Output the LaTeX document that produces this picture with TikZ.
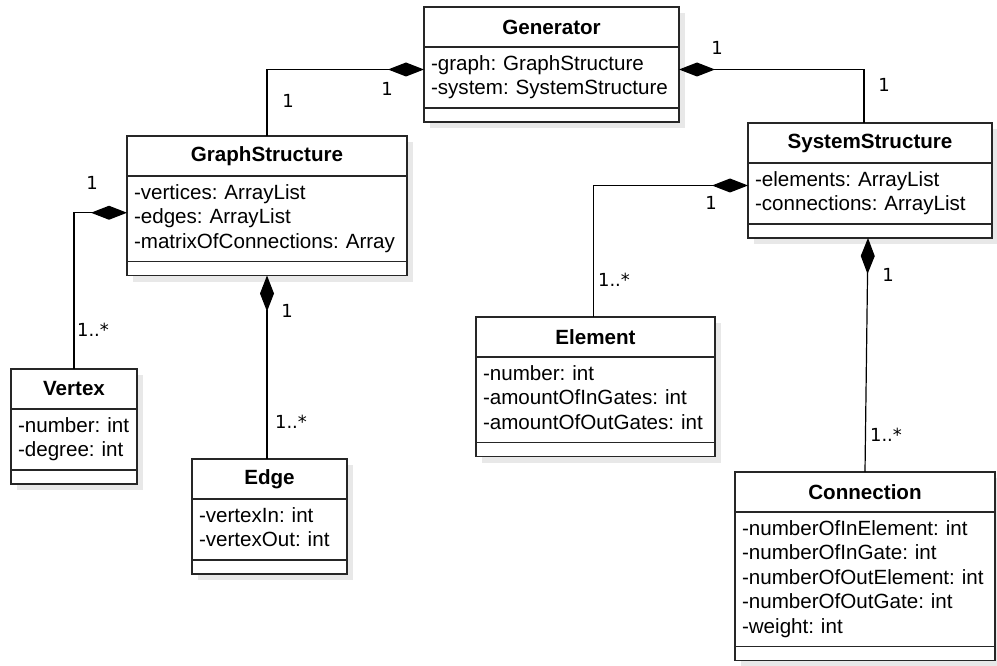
\documentclass[tikz,border=0pt]{standalone}
\usepackage{fontspec}
\setmainfont{Liberation Sans}
\newfontfamily\multfont{DejaVu Sans}
\usepackage{tikz}
\usetikzlibrary{arrows.meta,positioning,shadows}
\frenchspacing

\begin{document}
\begin{tikzpicture}[
    x=1pt, y=-1pt,
    font=\fontsize{20.6}{24.5}\selectfont,
    node distance=0pt,
    shadowed/.style={drop shadow={shadow xshift=6pt, shadow yshift=-6pt, fill=black!9, opacity=1}},
    head/.style={rectangle, draw=black!85, line width=1.2pt, fill=white, outer sep=0pt, inner sep=0pt, minimum height=40pt, minimum width=#1, font=\fontsize{20.6}{24.5}\selectfont\bfseries, shadowed},
    attr/.style={rectangle, draw=black!85, line width=1.2pt, fill=white, outer sep=0pt, inner xsep=7pt, inner ysep=6pt, text width=#1, align=left, execute at begin node=\strut, execute at end node=\strut, shadowed},
    foot/.style={rectangle, draw=black!85, line width=1.2pt, fill=white, outer sep=0pt, inner sep=0pt, minimum height=14pt, minimum width=#1, shadowed},
    mult/.style={font=\multfont\fontsize{18}{20}\selectfont, inner sep=1pt},
    comp/.style={{Diamond[length=36pt, width=14pt]}-, line width=1.2pt}
]
\useasboundingbox (0,0) rectangle (997,666);

% classes
\node[head=255pt] (gen) at (551.5,27) {Generator};
\node[attr=241pt, below=of gen] (genattr) {-graph: GraphStructure\\-system: SystemStructure};
\node[foot=255pt, below=of genattr] (genfoot) {};

\node[head=280pt] (gs) at (267,156) {GraphStructure};
\node[attr=266pt, below=of gs] (gsattr) {-vertices: ArrayList\\-edges: ArrayList\\-matrixOfConnections: Array};
\node[foot=280pt, below=of gsattr] (gsfoot) {};

\node[head=126pt] (vx) at (74,389) {Vertex};
\node[attr=112pt, below=of vx] (vxattr) {-number: int\\-degree: int};
\node[foot=126pt, below=of vxattr] (vxfoot) {};

\node[head=155pt] (edge) at (269.5,479) {Edge};
\node[attr=141pt, below=of edge] (edgeattr) {-vertexIn: int\\-vertexOut: int};
\node[foot=155pt, below=of edgeattr] (edgefoot) {};

\node[head=244pt] (ss) at (870,143) {SystemStructure};
\node[attr=230pt, below=of ss] (ssattr) {-elements: ArrayList\\-connections: ArrayList};
\node[foot=244pt, below=of ssattr] (ssfoot) {};

\node[head=239pt] (el) at (595.5,337) {Element};
\node[attr=225pt, below=of el] (elattr) {-number: int\\-amountOfInGates: int\\-amountOfOutGates: int};
\node[foot=239pt, below=of elattr] (elfoot) {};

\node[head=260pt] (conn) at (865,492) {Connection};
\node[attr=246pt, below=of conn] (connattr) {-numberOfInElement: int\\-numberOfInGate: int\\-numberOfOutElement: int\\-numberOfOutGate: int\\-weight: int};
\node[foot=260pt, below=of connattr] (connfoot) {};

% compositions
\draw[comp] ([yshift=8pt]genattr.west) -| (gs.north);
\draw[comp] ([yshift=8pt]genattr.east) -| ([xshift=-6pt]ss.north);
\draw[comp] ([yshift=6pt]gsattr.west) -| (vx.north);
\draw[comp] (gsfoot.south) -- (gsfoot.south |- edge.north);
\draw[comp] ([yshift=8pt]ssattr.west) -| ([xshift=-2pt]el.north);
\draw[comp] ([xshift=-2pt]ssfoot.south) -- (conn.north);

% multiplicities
\node[mult] (m1) at (387,89) {1};
\node[mult] (m2) at (288,101) {1};
\node[mult] (m3) at (717,48) {1};
\node[mult] (m4) at (884,85) {1};
\node[mult] (m5) at (92,183) {1};
\node[mult] (m6) at (93,330) {1..*};
\node[mult] (m7) at (287,311) {1};
\node[mult] (m8) at (291,422) {1..*};
\node[mult] (m9) at (711,203) {1};
\node[mult] (m10) at (614,280) {1..*};
\node[mult] (m11) at (888,275) {1};
\node[mult] (m12) at (886,435) {1..*};
\end{tikzpicture}
\end{document}
